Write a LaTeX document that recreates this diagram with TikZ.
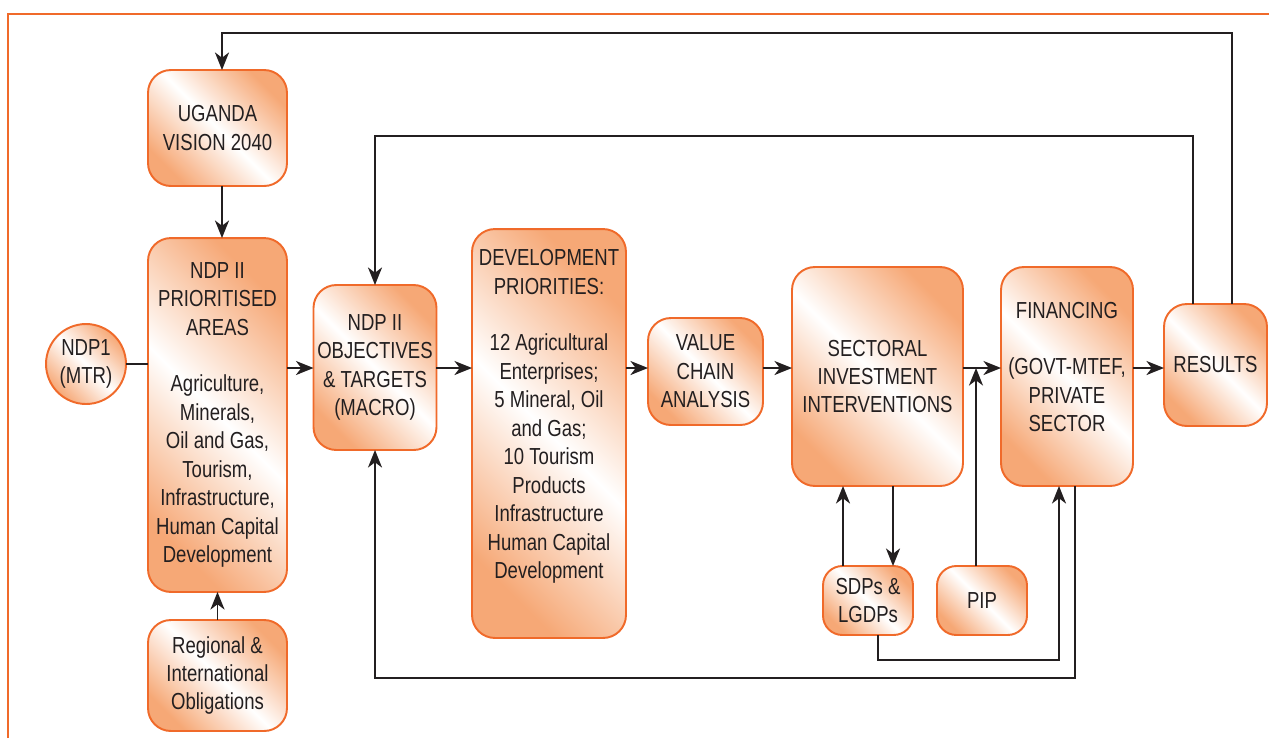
\documentclass[tikz,border=0pt]{standalone}
\usepackage{fontspec}
\setmainfont{Liberation Sans}[FakeStretch=0.8]
\usetikzlibrary{arrows.meta}
\definecolor{boxline}{RGB}{240,106,42}
\definecolor{boxfill}{RGB}{246,168,118}
\definecolor{inkgray}{RGB}{35,31,32}

\begin{document}
\begin{tikzpicture}[x=0.02cm,y=-0.02cm,
  every node/.style={font=\fontsize{13.2}{16.2}\selectfont,text=inkgray,align=center,inner sep=0pt,outer sep=0pt},
  block/.style={draw=boxline,line width=1.1pt,rounded corners=13pt,left color=boxfill,right color=boxfill,middle color=white,shading angle=135},
  arr/.style={draw=inkgray,line width=1.1pt,-{Stealth[length=10pt,width=8pt,inset=3pt]}},
  link/.style={draw=inkgray,line width=1.1pt}]
\useasboundingbox (0,0) rectangle (1269,738);
\draw[boxline,line width=1pt] (8,738) -- (8,14) -- (1269,14);

\node[block,minimum width=2.78cm,minimum height=2.32cm] (vision) at (217.5,128) {UGANDA\\VISION 2040};
\node[block,minimum width=2.78cm,minimum height=7.08cm] (areas) at (217.5,415) {NDP II\\PRIORITISED\\AREAS\\[16pt]Agriculture,\\Minerals,\\Oil and Gas,\\Tourism,\\Infrastructure,\\Human Capital\\Development};
\node[block,minimum width=2.78cm,minimum height=2.22cm] (oblig) at (217.5,675.5) {Regional \&\\International\\Obligations};
\node[block,circle,minimum size=1.6cm] (ndp1) at (86,364) {NDP1\\(MTR)};
\node[block,minimum width=2.46cm,minimum height=3.3cm] (objectives) at (375,367.5) {NDP II\\OBJECTIVES\\\& TARGETS\\(MACRO)};
\node[block,minimum width=3.08cm,minimum height=8.18cm] (devprio) at (549,433.5) {DEVELOPMENT\\PRIORITIES:\\[16pt]12 Agricultural\\Enterprises;\\5 Mineral, Oil\\and Gas;\\10 Tourism\\Products\\Infrastructure\\Human Capital\\Development\\[6pt]\mbox{}};
\node[block,minimum width=2.3cm,minimum height=2.14cm] (valuechain) at (705.5,371.5) {VALUE\\CHAIN\\ANALYSIS};
\node[block,minimum width=3.42cm,minimum height=4.38cm] (sectoral) at (877.5,376.5) {SECTORAL\\INVESTMENT\\INTERVENTIONS};
\node[block,minimum width=2.64cm,minimum height=4.38cm] (financing) at (1067,376.5) {FINANCING\\[16pt](GOVT-MTEF,\\PRIVATE\\SECTOR\\[-5pt]\mbox{}};
\node[block,minimum width=2.06cm,minimum height=2.44cm] (results) at (1215.5,365) {RESULTS};
\node[block,rounded corners=11pt,minimum width=1.8cm,minimum height=1.38cm] (sdps) at (868,600.5) {SDPs \&\\LGDPs};
\node[block,rounded corners=11pt,minimum width=1.8cm,minimum height=1.38cm] (pip) at (982,600.5) {PIP};

\coordinate (mainline) at (0,368);
\coordinate (toploop) at (1232,33);
\coordinate (topend) at (222,33);
\coordinate (midloop) at (1193,136);
\coordinate (lowloop) at (1075,678);
\coordinate (sdploop) at (1059,660);
\coordinate (sdpup) at (843,0);
\coordinate (sdpdown) at (893,0);
\coordinate (sdpout) at (878,0);
\coordinate (pipin) at (976,368);

\draw[link] (ndp1.east) -- (areas.west |- ndp1.east);
\draw[arr] (areas.east |- mainline) -- (objectives.west |- mainline);
\draw[arr] (objectives.east |- mainline) -- (devprio.west |- mainline);
\draw[arr] (devprio.east |- mainline) -- (valuechain.west |- mainline);
\draw[arr] (valuechain.east |- mainline) -- (sectoral.west |- mainline);
\draw[arr] (sectoral.east |- mainline) -- (financing.west |- mainline);
\draw[arr] (financing.east |- mainline) -- (results.west |- mainline);
\draw[arr] (vision.south -| topend) -- (areas.north -| topend);
\draw[arr] (oblig) -- (areas);
\draw[arr] (results.north -| toploop) |- (topend) -- (vision.north -| topend);
\draw[arr] (results.north -| midloop) |- (objectives.north |- midloop) -- (objectives.north);
\draw[arr] (financing.south -| lowloop) |- (objectives.south |- lowloop) -- (objectives.south);
\draw[arr] (sdps.south -| sdpout) |- (sdploop) -- (financing.south -| sdploop);
\draw[arr] (sdps.north -| sdpup) -- (sectoral.south -| sdpup);
\draw[arr] (sectoral.south -| sdpdown) -- (sdps.north -| sdpdown);
\draw[arr] (pip.north -| pipin) -- (pipin);
\end{tikzpicture}
\end{document}
